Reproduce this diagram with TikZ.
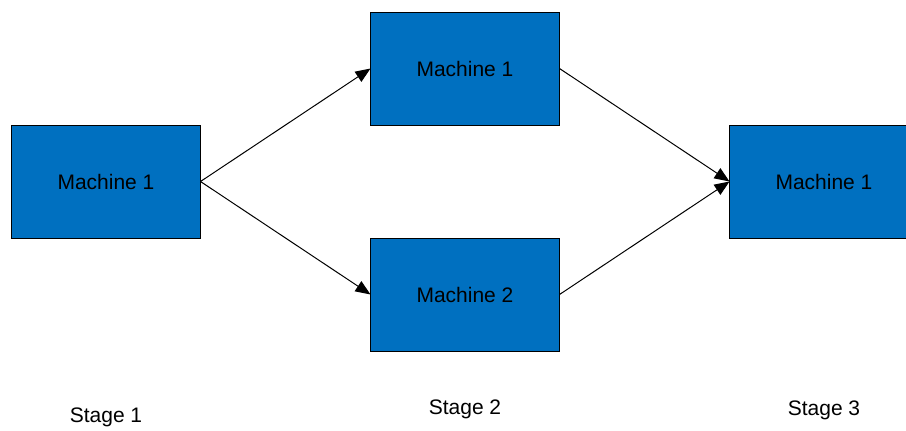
\documentclass[tikz,border=0pt]{standalone}
\usepackage{fontspec}
\setmainfont{Liberation Sans}
\usetikzlibrary{positioning,arrows.meta}
\definecolor{machineblue}{RGB}{0,112,192}

\begin{document}
\begin{tikzpicture}[
		x=0.5pt, y=0.5pt,
		font=\fontsize{10.5}{12}\selectfont,
		node distance=85pt,
		machine/.style = {
			draw, rectangle,
			fill=machineblue,
			line width=0.5pt,
			minimum width=94.5pt,
			minimum height=56.5pt,
			outer sep=0cm
			},
		stage/.style = {inner sep=0pt},
		flow/.style = {line width=0.5pt, -{Triangle[length=7.5pt,width=6pt]}}
		]
		\useasboundingbox (0,0) rectangle (906,-430);
		
		\node [machine] at (106,-181.5) (m11) {Machine 1};
		\node [machine, above right=0pt and 85pt of m11] (m21) {Machine 1};
		\node [machine, below right=0pt and 85pt of m11] (m22) {Machine 2};
		\coordinate (c3) at (m21.east |- m11.east);
		\node [machine, right=of c3] (m31) {Machine 1};
		
		\node [stage, below=84.6pt of m11] (s1) {Stage 1};
		\node [stage, below=24pt of m22] (s2) {Stage 2};
		\node [stage, below=81pt of m31] (s3) {Stage 3};
		
		\draw[flow] (m11.east) -- (m21.west);
		\draw[flow] (m11.east) -- (m22.west);
		\draw[flow] (m21.east) -- (m31.west);
		\draw[flow] (m22.east) -- (m31.west);
		
	\end{tikzpicture}
\end{document}
